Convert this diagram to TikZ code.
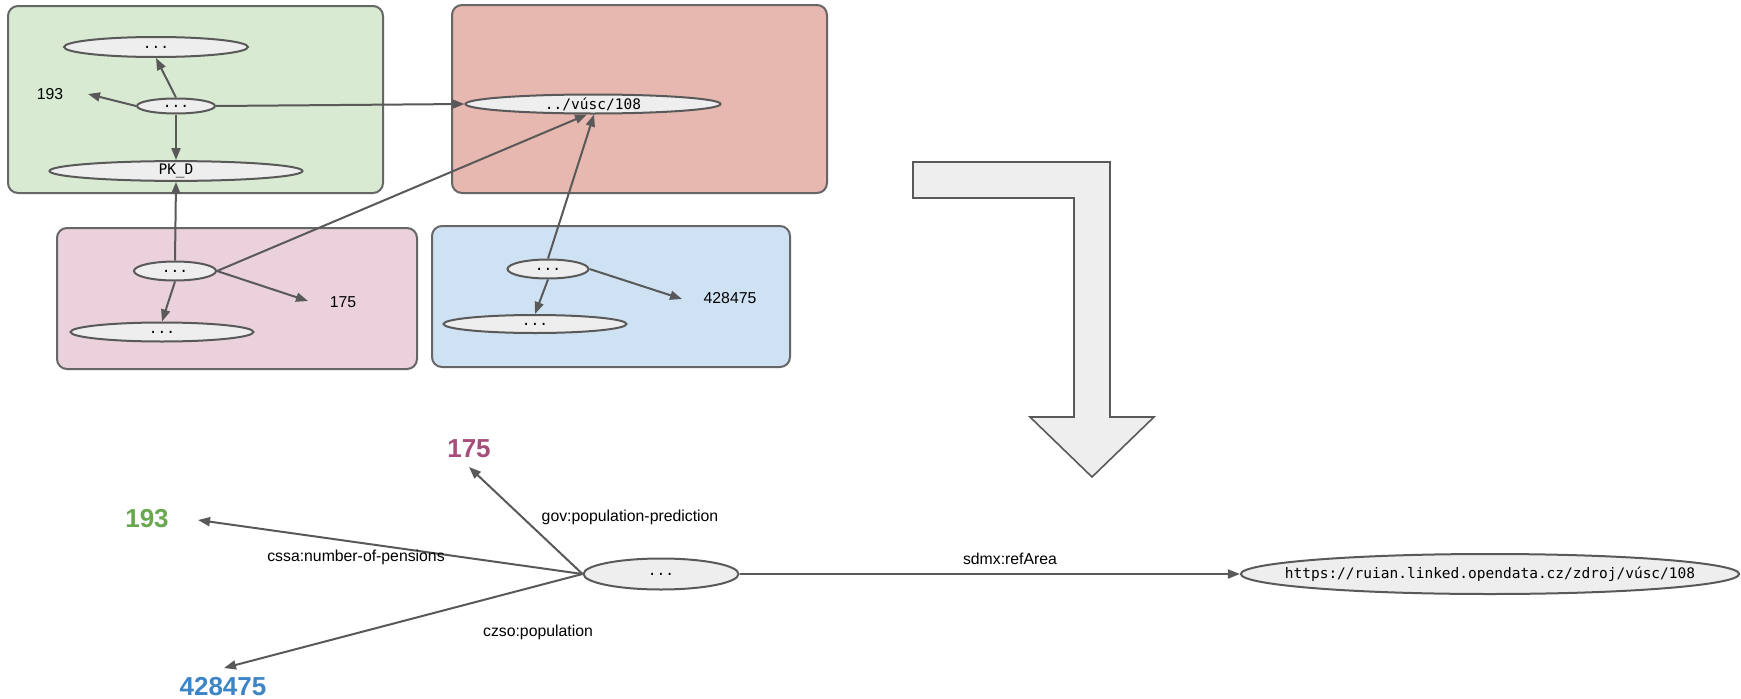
\documentclass[tikz,border=0pt]{standalone}
\usepackage{fontspec}
\setmainfont{Liberation Sans}
\newfontfamily\monof{DejaVu Sans Mono}
\usetikzlibrary{shapes.geometric,arrows.meta}
\definecolor{lineg}{HTML}{595959}
\definecolor{boxline}{HTML}{666666}
\definecolor{elfill}{HTML}{EEEEEE}
\definecolor{greenbg}{HTML}{D9EAD3}
\definecolor{redbg}{HTML}{E6B8AF}
\definecolor{pinkbg}{HTML}{EAD1DC}
\definecolor{bluebg}{HTML}{CFE2F3}
\definecolor{numgreen}{HTML}{6AA84F}
\definecolor{nummag}{HTML}{A64D79}
\definecolor{numblue}{HTML}{3D85C6}
\tikzset{
  grp/.style={draw=boxline, line width=2pt, rounded corners=10pt},
  el/.style={ellipse, draw=lineg, fill=elfill, line width=2pt, inner sep=0pt,
    font=\monof\fontsize{14.5}{16}\selectfont},
  lbl/.style={font=\fontsize{15.8}{18}\selectfont, text=black, inner sep=0pt},
  big/.style={font=\bfseries\fontsize{26}{30}\selectfont, inner sep=0pt},
  con/.style={draw=lineg, line width=2pt, -{Triangle[length=12pt,width=9pt]}},
  bent/.style={draw=lineg, fill=elfill, line width=1.6pt}
}
\begin{document}
\begin{tikzpicture}[x=1pt,y=-1pt]
\useasboundingbox (0,0) rectangle (1741,699);
\fill[white] (0,0) rectangle (1741,699);
% group boxes
\draw[grp, fill=greenbg] (8,6) rectangle (383,193);
\draw[grp, fill=redbg] (452,5) rectangle (827,193);
\draw[grp, fill=pinkbg] (57,228) rectangle (417,369);
\draw[grp, fill=bluebg] (432,226) rectangle (790,367);
% green group
\node[el, minimum width=184pt, minimum height=20pt] (g1) at (156,47) {...};
\node[el, minimum width=78pt, minimum height=15pt] (g2) at (176,106) {...};
\node[el, minimum width=253pt, minimum height=19pt] (gpk) at (176,171) {PK\_D};
\node[lbl] (g193) at (50,94) {193};
\coordinate (tg193) at (88,94);
% red group
\node[el, minimum width=255pt, minimum height=19pt] (rv) at (593,104) {../vúsc/108};
% pink group
\node[el, minimum width=82pt, minimum height=19pt] (p1) at (175,271) {...};
\node[el, minimum width=183pt, minimum height=19pt] (p2) at (162,332) {...};
\node[lbl] (p175) at (343,302) {175};
\coordinate (tp175) at (308,301);
% blue group
\node[el, minimum width=81pt, minimum height=19pt] (b1) at (548,269) {...};
\node[el, minimum width=183pt, minimum height=18pt] (b2) at (535,324) {...};
\node[lbl] (b428) at (730,298) {428475};
\coordinate (tb428) at (682,299);
% connectors top
\draw[con] (g2.north) -- (g1.south);
\draw[con] (g2.west) -- (tg193);
\draw[con] (g2.south) -- (gpk.north);
\draw[con] (g2.east) -- (rv.west);
\draw[con] (p1.north) -- (gpk.south);
\draw[con] (p1.east) -- ([xshift=-6pt]rv.south);
\draw[con] (p1.south) -- (p2.north);
\draw[con] (p1.east) -- (tp175);
\draw[con] (b1.north) -- ([xshift=1pt]rv.south);
\draw[con] (b1.south) -- (b2.north);
\draw[con] (b1.east) -- (tb428);
% bent arrow
\draw[bent] (913,162) -- (1110,162) -- (1110,417) -- (1154,417) -- (1092,477)
  -- (1030,417) -- (1074,417) -- (1074,198) -- (913,198) -- cycle;
% bottom graph
\node[el, minimum width=155pt, minimum height=31pt] (c) at (661,574) {...};
\node[el, inner xsep=-29pt, minimum width=498pt, minimum height=40pt] (u) at (1490,574)
  {https://ruian.linked.opendata.cz/zdroj/vúsc/108};
\node[big, text=numgreen] (n193) at (147,519) {193};
\node[big, text=nummag] (n175) at (469,449) {175};
\node[big, text=numblue] (n428) at (223,687) {428475};
\coordinate (t193) at (198,520);
\coordinate (t175) at (469,467);
\coordinate (t428) at (224,668);
\draw[con] (c.west) -- (t193);
\draw[con] (c.west) -- (t175);
\draw[con] (c.west) -- (t428);
\draw[con] (c.east) -- (u.west);
\node[lbl] (lcssa) at (356,557) {cssa:number-of-pensions};
\node[lbl] (lgov) at (630,517) {gov:population-prediction};
\node[lbl] (lczso) at (538,632) {czso:population};
\node[lbl] (lsdmx) at (1010,559) {sdmx:refArea};
\end{tikzpicture}
\end{document}
